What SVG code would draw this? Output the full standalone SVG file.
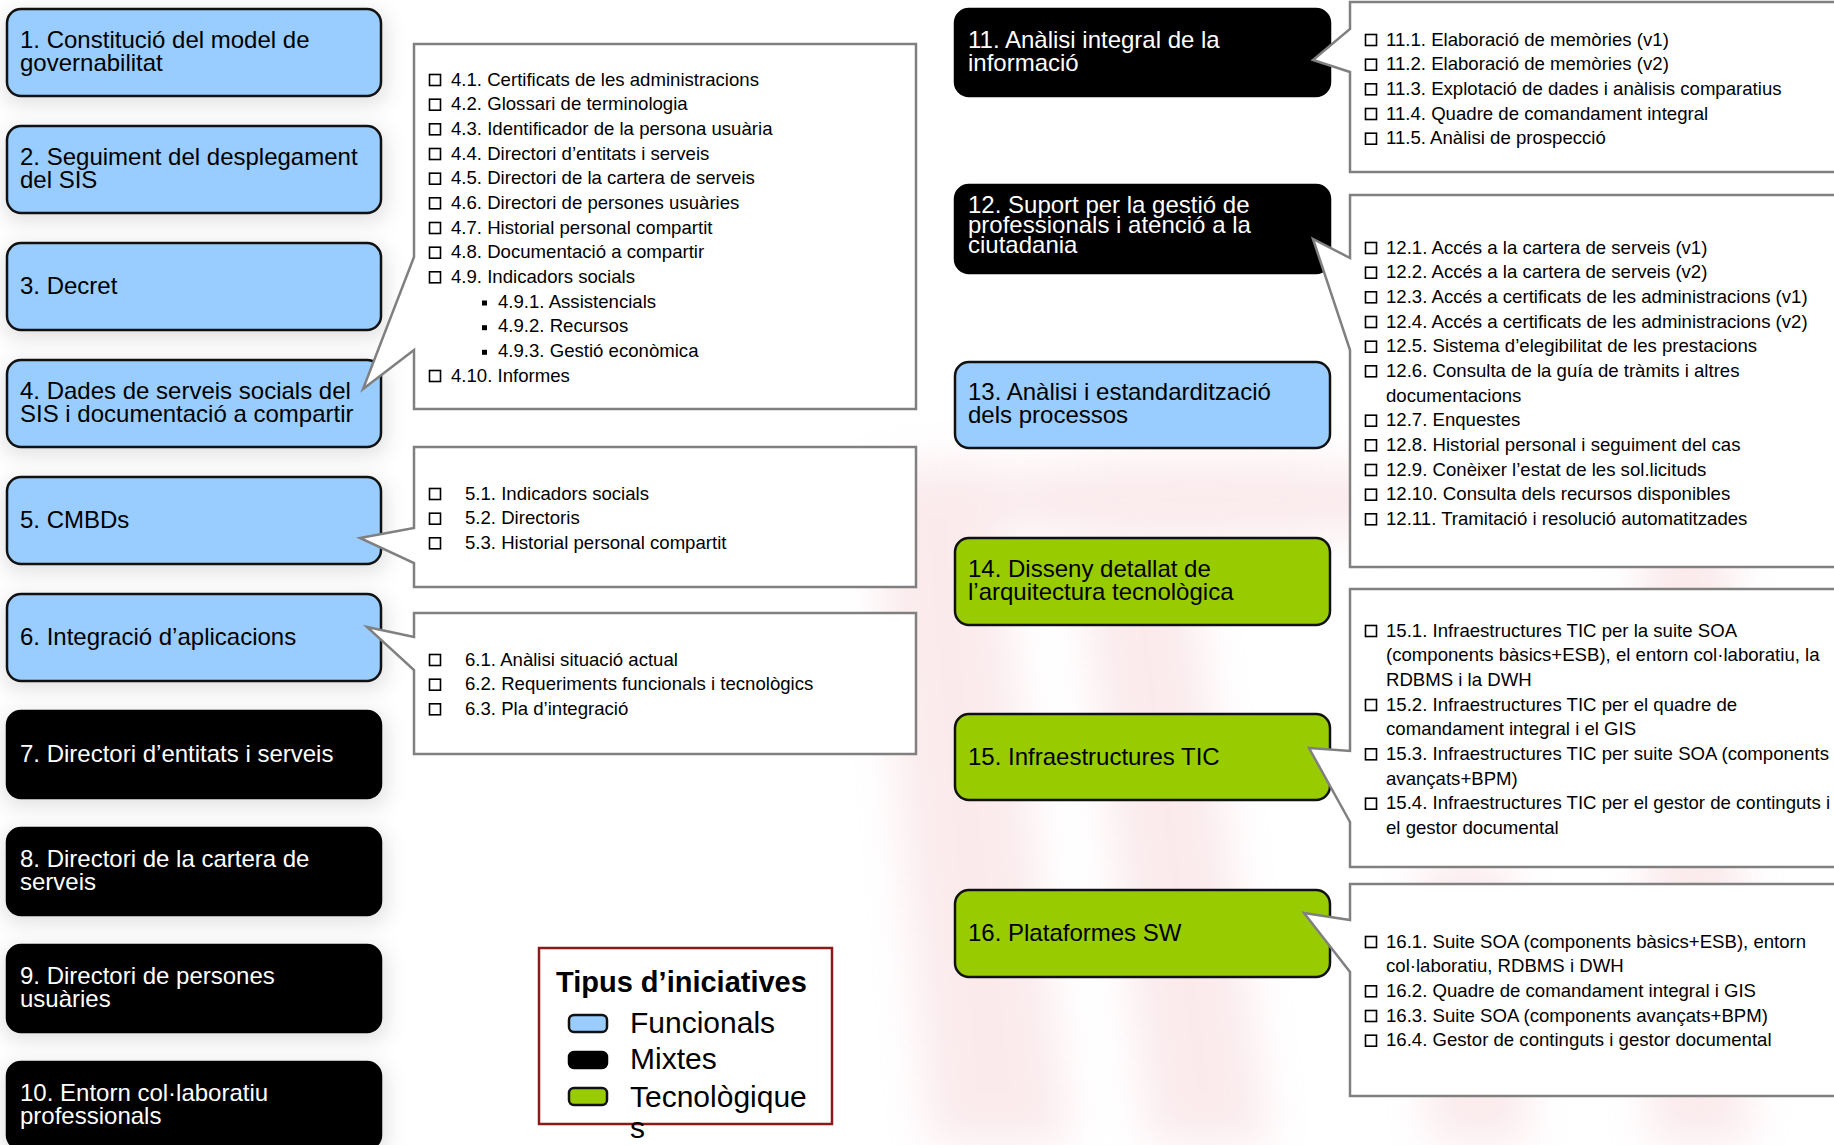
<svg xmlns="http://www.w3.org/2000/svg" width="1834" height="1145" viewBox="0 0 1834 1145">
<defs>
  <filter id="blur" x="-50%" y="-50%" width="200%" height="200%"><feGaussianBlur stdDeviation="22"/></filter>
  <filter id="sh" x="-20%" y="-40%" width="140%" height="180%"><feGaussianBlur stdDeviation="10"/></filter>
  <rect id="cb" width="11" height="11" fill="none" stroke="#000" stroke-width="1.6"/>
  <rect id="sq" width="5" height="5" fill="#000"/>
</defs>
<style>
  .nb{fill:#99CCFF;stroke:#111;stroke-width:2.5}
  .nk{fill:#000;stroke:#000;stroke-width:2.5}
  .ng{fill:#99CC00;stroke:#111;stroke-width:2.5}
  .t{font-family:"Liberation Sans",Arial,sans-serif;font-size:24px;fill:#000}
  .tw{font-family:"Liberation Sans",Arial,sans-serif;font-size:24px;fill:#fff}
  .co{fill:#fff;stroke:#808080;stroke-width:2.5}
  .it{font-family:"Liberation Sans",Arial,sans-serif;font-size:18.6px;fill:#000}
  .lg{font-family:"Liberation Sans",Arial,sans-serif;font-size:30px;fill:#000}
  .lt{font-family:"Liberation Sans",Arial,sans-serif;font-size:29px;font-weight:bold;fill:#000}
  .shd{fill:#000;opacity:0.12}
</style>
<rect width="1834" height="1145" fill="#fff"/>
<g id="watermark" filter="url(#blur)" fill="#eba3ad" opacity="0.22">
  <polygon points="870,470 990,460 1070,1145 930,1145"/>
  <polygon points="1080,560 1190,560 1270,1145 1150,1145"/>
  <polygon points="1640,480 1730,480 1750,1145 1650,1145"/>
  <polygon points="1420,860 1510,860 1530,1145 1430,1145"/>
  <ellipse cx="1200" cy="500" rx="260" ry="40"/>
</g>
<g id="shadows" filter="url(#sh)">
  <rect class="shd" x="4" y="12" width="382" height="92" rx="14"/>
  <rect class="shd" x="4" y="129" width="382" height="92" rx="14"/>
  <rect class="shd" x="4" y="246" width="382" height="92" rx="14"/>
  <rect class="shd" x="4" y="363" width="382" height="92" rx="14"/>
  <rect class="shd" x="4" y="480" width="382" height="92" rx="14"/>
  <rect class="shd" x="4" y="597" width="382" height="92" rx="14"/>
  <rect class="shd" x="4" y="714" width="382" height="92" rx="14"/>
  <rect class="shd" x="4" y="831" width="382" height="92" rx="14"/>
  <rect class="shd" x="4" y="948" width="382" height="92" rx="14"/>
  <rect class="shd" x="4" y="1065" width="382" height="92" rx="14"/>
</g>

<g id="n1"><rect class="nb" x="7" y="9" width="374" height="87" rx="14"/><text class="t" x="20" y="47.5">1. Constitució del model de</text><text class="t" x="20" y="70.5">governabilitat</text></g>
<g id="n2"><rect class="nb" x="7" y="126" width="374" height="87" rx="14"/><text class="t" x="20" y="164.5">2. Seguiment del desplegament</text><text class="t" x="20" y="187.5">del SIS</text></g>
<g id="n3"><rect class="nb" x="7" y="243" width="374" height="87" rx="14"/><text class="t" x="20" y="293.5">3. Decret</text></g>
<g id="n4"><rect class="nb" x="7" y="360" width="374" height="87" rx="14"/><text class="t" x="20" y="398.5">4. Dades de serveis socials del</text><text class="t" x="20" y="421.5">SIS i documentació a compartir</text></g>
<g id="n5"><rect class="nb" x="7" y="477" width="374" height="87" rx="14"/><text class="t" x="20" y="527.5">5. CMBDs</text></g>
<g id="n6"><rect class="nb" x="7" y="594" width="374" height="87" rx="14"/><text class="t" x="20" y="644.5">6. Integració d’aplicacions</text></g>
<g id="n7"><rect class="nk" x="7" y="711" width="374" height="87" rx="14"/><text class="tw" x="20" y="761.5">7. Directori d’entitats i serveis</text></g>
<g id="n8"><rect class="nk" x="7" y="828" width="374" height="87" rx="14"/><text class="tw" x="20" y="866.5">8. Directori de la cartera de</text><text class="tw" x="20" y="889.5">serveis</text></g>
<g id="n9"><rect class="nk" x="7" y="945" width="374" height="87" rx="14"/><text class="tw" x="20" y="983.5">9. Directori de persones</text><text class="tw" x="20" y="1006.5">usuàries</text></g>
<g id="n10"><rect class="nk" x="7" y="1062" width="374" height="87" rx="14"/><text class="tw" x="20" y="1100.5">10. Entorn col·laboratiu</text><text class="tw" x="20" y="1123.5">professionals</text></g>

<g id="n11"><rect class="nk" x="955" y="9" width="375" height="87" rx="14"/><text class="tw" x="968" y="47.5">11. Anàlisi integral de la</text><text class="tw" x="968" y="70.5">informació</text></g>
<g id="n12"><rect class="nk" x="955" y="185" width="375" height="88" rx="14"/><text class="tw" x="968" y="213">12. Suport per la gestió de</text><text class="tw" x="968" y="233">professionals i atenció a la</text><text class="tw" x="968" y="253">ciutadania</text></g>
<g id="n13"><rect class="nb" x="955" y="362" width="375" height="86" rx="14"/><text class="t" x="968" y="400">13. Anàlisi i estandardització</text><text class="t" x="968" y="423">dels processos</text></g>
<g id="n14"><rect class="ng" x="955" y="538" width="375" height="87" rx="14"/><text class="t" x="968" y="576.5">14. Disseny detallat de</text><text class="t" x="968" y="599.5">l’arquitectura tecnològica</text></g>
<g id="n15"><rect class="ng" x="955" y="714" width="375" height="86" rx="14"/><text class="t" x="968" y="764.5">15. Infraestructures TIC</text></g>
<g id="n16"><rect class="ng" x="955" y="890" width="375" height="87" rx="14"/><text class="t" x="968" y="940.5">16. Plataformes SW</text></g>

<g id="connectors">
<g id="c4">
  <path class="co" d="M414,44 H916 V409 H414 V350 L363,389 L414,257 Z"/>
  <use href="#cb" x="429.5" y="74.5"/><text class="it" x="451" y="85.5">4.1. Certificats de les administracions</text>
  <use href="#cb" x="429.5" y="99.2"/><text class="it" x="451" y="110.2">4.2. Glossari de terminologia</text>
  <use href="#cb" x="429.5" y="123.8"/><text class="it" x="451" y="134.8">4.3. Identificador de la persona usuària</text>
  <use href="#cb" x="429.5" y="148.5"/><text class="it" x="451" y="159.5">4.4. Directori d’entitats i serveis</text>
  <use href="#cb" x="429.5" y="173.2"/><text class="it" x="451" y="184.2">4.5. Directori de la cartera de serveis</text>
  <use href="#cb" x="429.5" y="197.8"/><text class="it" x="451" y="208.8">4.6. Directori de persones usuàries</text>
  <use href="#cb" x="429.5" y="222.5"/><text class="it" x="451" y="233.5">4.7. Historial personal compartit</text>
  <use href="#cb" x="429.5" y="247.2"/><text class="it" x="451" y="258.2">4.8. Documentació a compartir</text>
  <use href="#cb" x="429.5" y="271.8"/><text class="it" x="451" y="282.8">4.9. Indicadors socials</text>
  <use href="#sq" x="482" y="300.5"/><text class="it" x="498" y="307.5">4.9.1. Assistencials</text>
  <use href="#sq" x="482" y="325.2"/><text class="it" x="498" y="332.2">4.9.2. Recursos</text>
  <use href="#sq" x="482" y="349.8"/><text class="it" x="498" y="356.8">4.9.3. Gestió econòmica</text>
  <use href="#cb" x="429.5" y="370.5"/><text class="it" x="451" y="381.5">4.10. Informes</text>
</g>
<g id="c5">
  <path class="co" d="M414,447 H916 V587 H414 V563 L360,538 L414,528 Z"/>
  <use href="#cb" x="429.5" y="488.5"/><text class="it" x="465" y="499.5">5.1. Indicadors socials</text>
  <use href="#cb" x="429.5" y="513.2"/><text class="it" x="465" y="524.2">5.2. Directoris</text>
  <use href="#cb" x="429.5" y="537.8"/><text class="it" x="465" y="548.8">5.3. Historial personal compartit</text>
</g>
<g id="c6">
  <path class="co" d="M414,613 H916 V754 H414 V670 L367,627 L414,637 Z"/>
  <use href="#cb" x="429.5" y="654.5"/><text class="it" x="465" y="665.5">6.1. Anàlisi situació actual</text>
  <use href="#cb" x="429.5" y="679.2"/><text class="it" x="465" y="690.2">6.2. Requeriments funcionals i tecnològics</text>
  <use href="#cb" x="429.5" y="703.8"/><text class="it" x="465" y="714.8">6.3. Pla d’integració</text>
</g>
<g id="c11">
  <path class="co" d="M1350,2 H1850 V172 H1350 V72 L1313,60 L1350,29 Z"/>
  <use href="#cb" x="1365.5" y="34.5"/><text class="it" x="1386" y="45.5">11.1. Elaboració de memòries (v1)</text>
  <use href="#cb" x="1365.5" y="59.2"/><text class="it" x="1386" y="70.2">11.2. Elaboració de memòries (v2)</text>
  <use href="#cb" x="1365.5" y="83.8"/><text class="it" x="1386" y="94.8">11.3. Explotació de dades i anàlisis comparatius</text>
  <use href="#cb" x="1365.5" y="108.5"/><text class="it" x="1386" y="119.5">11.4. Quadre de comandament integral</text>
  <use href="#cb" x="1365.5" y="133.2"/><text class="it" x="1386" y="144.2">11.5. Anàlisi de prospecció</text>
</g>
<g id="c12">
  <path class="co" d="M1350,195 H1850 V567 H1350 V350 L1313,239 L1350,258 Z"/>
  <use href="#cb" x="1365.5" y="242.5"/><text class="it" x="1386" y="253.5">12.1. Accés a la cartera de serveis (v1)</text>
  <use href="#cb" x="1365.5" y="267.2"/><text class="it" x="1386" y="278.2">12.2. Accés a la cartera de serveis (v2)</text>
  <use href="#cb" x="1365.5" y="291.8"/><text class="it" x="1386" y="302.8">12.3. Accés a certificats de les administracions (v1)</text>
  <use href="#cb" x="1365.5" y="316.5"/><text class="it" x="1386" y="327.5">12.4. Accés a certificats de les administracions (v2)</text>
  <use href="#cb" x="1365.5" y="341.2"/><text class="it" x="1386" y="352.2">12.5. Sistema d’elegibilitat de les prestacions</text>
  <use href="#cb" x="1365.5" y="365.8"/><text class="it" x="1386" y="376.8">12.6. Consulta de la guía de tràmits i altres</text>
  <text class="it" x="1386" y="401.5">documentacions</text>
  <use href="#cb" x="1365.5" y="415.2"/><text class="it" x="1386" y="426.2">12.7. Enquestes</text>
  <use href="#cb" x="1365.5" y="439.8"/><text class="it" x="1386" y="450.8">12.8. Historial personal i seguiment del cas</text>
  <use href="#cb" x="1365.5" y="464.5"/><text class="it" x="1386" y="475.5">12.9. Conèixer l’estat de les sol.licituds</text>
  <use href="#cb" x="1365.5" y="489.2"/><text class="it" x="1386" y="500.2">12.10. Consulta dels recursos disponibles</text>
  <use href="#cb" x="1365.5" y="513.8"/><text class="it" x="1386" y="524.8">12.11. Tramitació i resolució automatitzades</text>
</g>
<g id="c15">
  <path class="co" d="M1350,589 H1850 V867 H1350 V822 L1309,748 L1350,751 Z"/>
  <use href="#cb" x="1365.5" y="625.5"/><text class="it" x="1386" y="636.5">15.1. Infraestructures TIC per la suite SOA</text>
  <text class="it" x="1386" y="661.2">(components bàsics+ESB), el entorn col·laboratiu, la</text>
  <text class="it" x="1386" y="685.8">RDBMS i la DWH</text>
  <use href="#cb" x="1365.5" y="699.5"/><text class="it" x="1386" y="710.5">15.2. Infraestructures TIC per el quadre de</text>
  <text class="it" x="1386" y="735.2">comandament integral i el GIS</text>
  <use href="#cb" x="1365.5" y="748.8"/><text class="it" x="1386" y="759.8">15.3. Infraestructures TIC per suite SOA (components</text>
  <text class="it" x="1386" y="784.5">avançats+BPM)</text>
  <use href="#cb" x="1365.5" y="798.2"/><text class="it" x="1386" y="809.2">15.4. Infraestructures TIC per el gestor de continguts i</text>
  <text class="it" x="1386" y="833.8">el gestor documental</text>
</g>
<g id="c16">
  <path class="co" d="M1350,884 H1850 V1096 H1350 V972 L1304,913 L1350,920 Z"/>
  <use href="#cb" x="1365.5" y="936.5"/><text class="it" x="1386" y="947.5">16.1. Suite SOA (components bàsics+ESB), entorn</text>
  <text class="it" x="1386" y="972.2">col·laboratiu, RDBMS i DWH</text>
  <use href="#cb" x="1365.5" y="985.8"/><text class="it" x="1386" y="996.8">16.2. Quadre de comandament integral i GIS</text>
  <use href="#cb" x="1365.5" y="1010.5"/><text class="it" x="1386" y="1021.5">16.3. Suite SOA (components avançats+BPM)</text>
  <use href="#cb" x="1365.5" y="1035.2"/><text class="it" x="1386" y="1046.2">16.4. Gestor de continguts i gestor documental</text>
</g>
</g>

<g id="legend">
  <rect x="539" y="948" width="293" height="176" fill="#fff" stroke="#8b1a1a" stroke-width="2.5"/>
  <text class="lt" x="556" y="992">Tipus d’iniciatives</text>
  <rect class="nb" x="569" y="1015" width="38" height="17" rx="5"/>
  <text class="lg" x="630" y="1033">Funcionals</text>
  <rect class="nk" x="569" y="1052" width="38" height="16" rx="5"/>
  <text class="lg" x="630" y="1069">Mixtes</text>
  <rect class="ng" x="569" y="1088" width="38" height="17" rx="5"/>
  <text class="lg" x="630" y="1107">Tecnològique</text>
  <text class="lg" x="630" y="1138">s</text>
</g>
</svg>
